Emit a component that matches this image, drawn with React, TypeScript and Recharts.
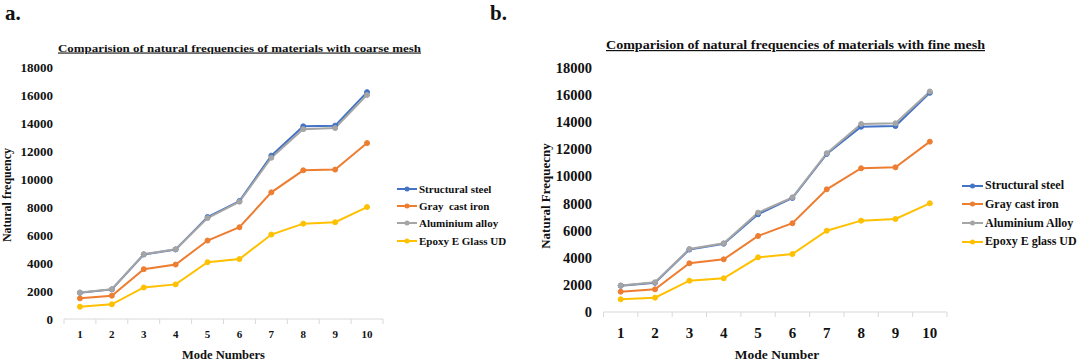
import React from 'react';
import { LineChart, Line, XAxis, YAxis, Legend } from 'recharts';

const FONT = '"Liberation Serif", "Times New Roman", serif';

const modes = [1, 2, 3, 4, 5, 6, 7, 8, 9, 10];
const yTicks = [0, 2000, 4000, 6000, 8000, 10000, 12000, 14000, 16000, 18000];
const seriesNamesCoarse = ['Structural steel', 'Gray  cast iron', 'Aluminium alloy', 'Epoxy E Glass UD'];
const seriesNamesFine = ['Structural steel', 'Gray cast iron', 'Aluminium Alloy', 'Epoxy E glass UD'];
const seriesColors = ['#4472C4', '#ED7D31', '#A5A5A5', '#FFC000'];

// Coarse mesh (chart a)
const coarseSteel = [1880, 2120, 4620, 4980, 7300, 8450, 11700, 13800, 13850, 16250];
const coarseIron = [1480, 1670, 3570, 3900, 5620, 6570, 9070, 10650, 10700, 12600];
const coarseAluminium = [1900, 2130, 4640, 5000, 7230, 8400, 11550, 13600, 13680, 16050];
const coarseEpoxy = [880, 1050, 2260, 2480, 4070, 4290, 6050, 6830, 6930, 8020];

// Fine mesh (chart b)
const fineSteel = [1930, 2150, 4600, 5030, 7200, 8400, 11650, 13650, 13700, 16150];
const fineIron = [1500, 1670, 3590, 3880, 5600, 6540, 9040, 10590, 10660, 12550];
const fineAluminium = [1960, 2190, 4640, 5060, 7320, 8450, 11700, 13850, 13900, 16250];
const fineEpoxy = [935, 1055, 2310, 2480, 4030, 4270, 5990, 6730, 6850, 8010];

const build = (s: number[], i: number[], a: number[], e: number[]) =>
  modes.map((m, k) => ({ mode: m, s0: s[k], s1: i[k], s2: a[k], s3: e[k] }));

const coarseData = build(coarseSteel, coarseIron, coarseAluminium, coarseEpoxy);
const fineData = build(fineSteel, fineIron, fineAluminium, fineEpoxy);

const TICK_SIZE = 6;

const makeXTick = (fontSize: number, tickMargin: number) => (props: any) => {
  const { x, y, payload, width, visibleTicksCount, index } = props;
  const half = width / visibleTicksCount / 2;
  const axisY = y - TICK_SIZE - tickMargin;
  const stroke = '#d9d9d9';
  return (
    <g>
      <line x1={x - half} x2={x - half} y1={axisY} y2={axisY + 5} stroke={stroke} strokeWidth={1} />
      {index === visibleTicksCount - 1 && (
        <line x1={x + half} x2={x + half} y1={axisY} y2={axisY + 5} stroke={stroke} strokeWidth={1} />
      )}
      <text x={x} y={y} dy="0.71em" textAnchor="middle" fontFamily={FONT} fontWeight="bold" fontSize={fontSize} fill="#111">
        {payload.value}
      </text>
    </g>
  );
};

const makeLegend = (names: string[], fontSize: number, rowH: number, lineW: number) => (props: any) => {
  const items = [...(props.payload || [])].sort(
    (a: any, b: any) => names.indexOf(a.value) - names.indexOf(b.value)
  );
  return (
    <div style={{ fontFamily: FONT, fontWeight: 'bold', fontSize, color: '#111' }}>
      {items.map((e: any) => (
        <div key={e.value} style={{ display: 'flex', alignItems: 'center', height: rowH }}>
          <svg width={lineW} height={10} style={{ display: 'block' }}>
            <line x1={0} y1={5} x2={lineW} y2={5} stroke={e.color} strokeWidth={2} />
            <circle cx={lineW / 2} cy={5} r={2.5} fill={e.color} />
          </svg>
          <span style={{ marginLeft: 2, whiteSpace: 'pre' }}>{e.value}</span>
        </div>
      ))}
    </div>
  );
};

type PanelProps = {
  data: any[];
  names: string[];
  margin: { top: number; right: number; bottom: number; left: number };
  yFont: number;
  yMargin: number;
  xFont: number;
  xMargin: number;
  legendLeft: number;
  legendTop: number;
  legendFont: number;
  legendRow: number;
  legendLine: number;
  strokeW: number;
};

function Panel(p: PanelProps) {
  return (
    <LineChart width={540} height={360} data={p.data} margin={p.margin}>
      <XAxis
        dataKey="mode"
        type="number"
        domain={[0.5, 10.5]}
        ticks={modes}
        interval={0}
        height={30}
        axisLine={{ stroke: '#d9d9d9' }}
        tickLine={false}
        tickSize={TICK_SIZE}
        tickMargin={p.xMargin}
        tick={makeXTick(p.xFont, p.xMargin)}
      />
      <YAxis
        domain={[0, 18000]}
        ticks={yTicks}
        interval={0}
        width={60}
        axisLine={false}
        tickLine={false}
        tickSize={TICK_SIZE}
        tickMargin={p.yMargin}
        tick={{ fontFamily: FONT, fontWeight: 'bold', fontSize: p.yFont, fill: '#111' }}
      />
      {[0, 1, 2, 3].map((k) => (
        <Line
          key={k}
          dataKey={'s' + k}
          name={p.names[k]}
          stroke={seriesColors[k]}
          strokeWidth={p.strokeW}
          dot={{ r: 2.5, fill: seriesColors[k], stroke: seriesColors[k], strokeWidth: 1 }}
          isAnimationActive={false}
        />
      ))}
      <Legend
        layout="vertical"
        align="center"
        verticalAlign="middle"
        wrapperStyle={{ left: p.legendLeft, top: p.legendTop, width: 140 }}
        content={makeLegend(p.names, p.legendFont, p.legendRow, p.legendLine)}
      />
    </LineChart>
  );
}

export default function App() {
  return (
    <div style={{ position: 'absolute', left: 0, top: 0, width: 1080, height: 360, background: '#fff', overflow: 'hidden' }}>
      <div style={{ position: 'absolute', left: 0, top: 0 }}>
        <Panel
          data={coarseData}
          names={seriesNamesCoarse}
          margin={{ top: 67.7, right: 157, bottom: 11, left: 4 }}
          yFont={13}
          yMargin={5}
          xFont={11}
          xMargin={5.5}
          legendLeft={397}
          legendTop={180.4}
          legendFont={11}
          legendRow={17.2}
          legendLine={20}
          strokeW={2}
        />
      </div>
      <div style={{ position: 'absolute', left: 540, top: 0 }}>
        <Panel
          data={fineData}
          names={seriesNamesFine}
          margin={{ top: 67.7, right: 133, bottom: 18, left: 3.5 }}
          yFont={14.5}
          yMargin={5.5}
          xFont={15}
          xMargin={9.5}
          legendLeft={422}
          legendTop={176.3}
          legendFont={12}
          legendRow={18.7}
          legendLine={21}
          strokeW={2}
        />
      </div>
      <svg width={1080} height={360} style={{ position: 'absolute', left: 0, top: 0, pointerEvents: 'none' }}>
        <g fontFamily={FONT} fontWeight="bold" fill="#111">
          <text x={5} y={20} fontSize={21}>a.</text>
          <text x={490} y={20} fontSize={21}>b.</text>
          <text x={239.5} y={51.5} fontSize={11} textAnchor="middle" textLength={363} lengthAdjust="spacingAndGlyphs" style={{ textDecoration: 'underline' }}>
            Comparision of natural frequencies of materials with coarse mesh
          </text>
          <text x={795.5} y={49} fontSize={12} textAnchor="middle" textLength={379} lengthAdjust="spacingAndGlyphs" style={{ textDecoration: 'underline' }}>
            Comparision of natural frequencies of materials with fine mesh
          </text>
          <text x={0} y={0} fontSize={12} textAnchor="middle" dominantBaseline="central" transform="translate(7,195) rotate(-90)">
            Natural frequency
          </text>
          <text x={0} y={0} fontSize={13} textAnchor="middle" dominantBaseline="central" transform="translate(545,196) rotate(-90)">
            Natural Frequecny
          </text>
          <text x={223.5} y={358.5} fontSize={12.5} textAnchor="middle">Mode Numbers</text>
          <text x={777} y={358.5} fontSize={13.5} textAnchor="middle">Mode Number</text>
        </g>
      </svg>
    </div>
  );
}
